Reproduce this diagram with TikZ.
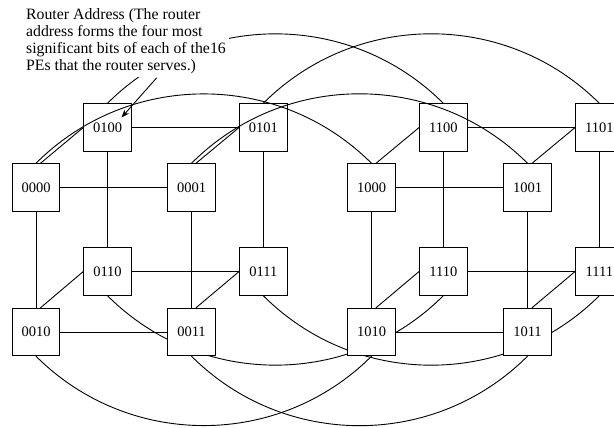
\documentclass[tikz,border=0pt]{standalone}
\usepackage{fontspec}
\setmainfont{Liberation Serif}
\usetikzlibrary{arrows.meta}
\begin{document}
\begin{tikzpicture}[x=1pt,y=1pt,line width=0.9pt,
  router/.style={draw,fill=white,minimum width=47.5pt,minimum height=47.5pt,inner sep=0pt,
                 font=\fontsize{14.5}{16}\selectfont},
  toparc/.style={out=45,in=135},
  botarc/.style={out=-45,in=-135},
  note/.style={fill=white,inner sep=3pt,align=left,font=\fontsize{15.8}{17.3}\selectfont}]
\path[use as bounding box,clip] (0,0) rectangle (614,428);
% router positions
\node[router] (n0000) at (36,240.5) {0000};
\node[router] (n0001) at (191.5,240.5) {0001};
\node[router] (n1000) at (371.5,240.5) {1000};
\node[router] (n1001) at (527.5,240.5) {1001};
\node[router] (n0100) at (107.5,300.5) {0100};
\node[router] (n0101) at (263.3,300.5) {0101};
\node[router] (n1100) at (443.3,300.5) {1100};
\node[router] (n1101) at (599.3,300.5) {1101};
\node[router] (n0110) at (107.5,156.5) {0110};
\node[router] (n0111) at (263.3,156.5) {0111};
\node[router] (n1110) at (443.3,156.5) {1110};
\node[router] (n1111) at (599.3,156.5) {1111};
\node[router] (n0010) at (36,96) {0010};
\node[router] (n0011) at (191.5,96) {0011};
\node[router] (n1010) at (371.5,96) {1010};
\node[router] (n1011) at (527.5,96) {1011};
% bottom arcs (behind boxes)
\draw (n0010.south) to[botarc] (n1010.south);
\draw (n0011.south) to[botarc] (n1011.south);
\draw (n0110.south) to[botarc] (n1110.south);
\draw (n0111.south) to[botarc] (n1111.south);
% cube edges
\foreach \p in {0,1}{
  \draw (n\p000.east) -- (n\p001.west);
  \draw (n\p100.east) -- (n\p101.west);
  \draw (n\p110.east) -- (n\p111.west);
  \draw (n\p010.east) -- (n\p011.west);
  \draw (n\p000.south) -- (n\p010.north);
  \draw (n\p001.south) -- (n\p011.north);
  \draw (n\p100.south) -- (n\p110.north);
  \draw (n\p101.south) -- (n\p111.north);
  \draw ([xshift=4.5pt]n\p000.north) -- (n\p100.west);
  \draw ([xshift=4.5pt]n\p001.north) -- (n\p101.west);
  \draw ([xshift=4.5pt]n\p010.north) -- (n\p110.west);
  \draw ([xshift=4.5pt]n\p011.north) -- (n\p111.west);
}
% redraw boxes on top of the lower arcs
\foreach \n in {0000,0001,1000,1001,0100,0101,1100,1101,0110,0111,1110,1111,0010,0011,1010,1011}{
  \node[router] at (n\n) {\n};
}
% top arcs (over boxes)
\draw (n0000.north) to[toparc] (n1000.north);
\draw (n0001.north) to[toparc] (n1001.north);
\draw (n0100.north) to[toparc] (n1100.north);
\draw (n0101.north) to[toparc] (n1101.north);
% annotation
\node[note,anchor=base west] (note) at (22.7,357)
  {Router Address (The router\\address forms the four most\\significant bits of each of the16\\PEs that the router serves.)};
\draw[-{Stealth[length=8pt,width=6pt]}] ([xshift=134pt]note.south west) -- ([xshift=14pt,yshift=10pt]n0100.center);
\end{tikzpicture}
\end{document}
